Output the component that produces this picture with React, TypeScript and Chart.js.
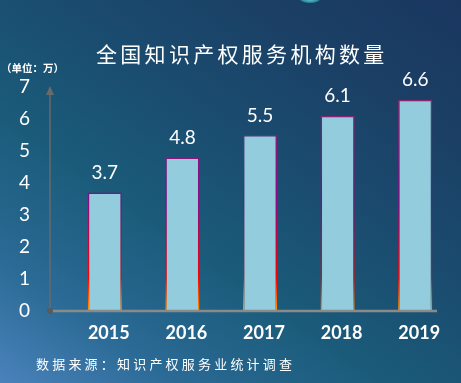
import React, { useEffect, useRef } from "react";
import { Chart, registerables } from "chart.js";

Chart.register(...registerables);

const years = ["2015", "2016", "2017", "2018", "2019"];
const counts = [3.7, 4.8, 5.5, 6.1, 6.6];
const yTicks = [0, 1, 2, 3, 4, 5, 6, 7];
const titleText = "全国知识产权服务机构数量";
const unitText = "（单位：万）";
const sourceText = "数据来源：知识产权服务业统计调查";

const NUM_FONT = "Lato, 'Open Sans', 'Noto Sans', sans-serif";
const CJK_FONT = "'Noto Sans CJK SC', 'Noto Sans', sans-serif";

const axesPlugin = {
  id: "axesDecor",
  afterDatasetsDraw(chart: any) {
    const { ctx, chartArea } = chart;
    const x0 = chartArea.left - 16;
    const y0 = chartArea.bottom;
    ctx.save();
    ctx.strokeStyle = "#8a8a8a";
    ctx.lineWidth = 2.5;
    ctx.beginPath();
    ctx.moveTo(x0, y0);
    ctx.lineTo(chartArea.right - 17, y0);
    ctx.stroke();
    ctx.strokeStyle = "#6a6a6a";
    ctx.lineWidth = 1.5;
    ctx.beginPath();
    ctx.moveTo(x0, y0);
    ctx.lineTo(x0, chartArea.top + 6);
    ctx.stroke();
    ctx.fillStyle = "#6a6a6a";
    ctx.beginPath();
    ctx.moveTo(x0, chartArea.top - 1);
    ctx.lineTo(x0 - 4, chartArea.top + 8);
    ctx.lineTo(x0 + 4, chartArea.top + 8);
    ctx.closePath();
    ctx.fill();
    ctx.fillStyle = "#5a5a5a";
    ctx.beginPath();
    ctx.arc(x0, y0, 3, 0, Math.PI * 2);
    ctx.fill();
    ctx.restore();
  },
};

const valueLabelPlugin = {
  id: "valueLabels",
  afterDatasetsDraw(chart: any) {
    const { ctx } = chart;
    const meta = chart.getDatasetMeta(0);
    ctx.save();
    ctx.fillStyle = "#ffffff";
    ctx.font = `19px ${NUM_FONT}`;
    ctx.textAlign = "center";
    ctx.textBaseline = "bottom";
    meta.data.forEach((bar: any, i: number) => {
      ctx.fillText(String(counts[i]), bar.x, bar.y - 10);
    });
    ctx.restore();
  },
};

export default function App() {
  const canvasRef = useRef<HTMLCanvasElement | null>(null);

  useEffect(() => {
    if (!canvasRef.current) return;
    const chart = new Chart(canvasRef.current, {
      type: "bar",
      data: {
        labels: years,
        datasets: [
          {
            data: counts,
            backgroundColor: "#93cddd",
            borderWidth: 1.5,
            borderColor: (c: any) => {
              const ch = c.chart;
              const area = ch.chartArea;
              if (!area) return "#993366";
              const g = ch.ctx.createLinearGradient(0, area.top, 0, area.bottom);
              g.addColorStop(0, "#8a2c6a");
              g.addColorStop(0.5, "#8a0a8a");
              g.addColorStop(0.85, "#ff0000");
              g.addColorStop(1, "#ff9900");
              return g;
            },
            categoryPercentage: 1,
            barPercentage: 0.44,
          },
        ],
      },
      options: {
        animation: false,
        responsive: false,
        maintainAspectRatio: false,
        layout: { padding: { top: 87, right: 7, left: 0, bottom: 0 } },
        plugins: {
          legend: { display: false },
          tooltip: { enabled: false },
          title: { display: false },
        },
        scales: {
          x: {
            grid: { display: false, drawTicks: false },
            border: { display: false },
            ticks: {
              color: "#ffffff",
              font: { family: NUM_FONT, size: 18, weight: "bold" },
              padding: 11,
              labelOffset: 4,
            },
            afterFit(scale: any) {
              scale.height = 72;
            },
          },
          y: {
            min: 0,
            max: 7,
            afterBuildTicks(scale: any) {
              scale.ticks = yTicks.map((v) => ({ value: v }));
            },
            grid: { display: false, drawTicks: false },
            border: { display: false },
            ticks: {
              color: "#ffffff",
              font: { family: NUM_FONT, size: 19 },
              padding: 36,
            },
            afterFit(scale: any) {
              scale.width = 66;
            },
          },
        },
      },
      plugins: [axesPlugin, valueLabelPlugin],
    } as any);
    return () => chart.destroy();
  }, []);

  return (
    <div
      style={{
        position: "fixed",
        left: 0,
        top: 0,
        width: 461,
        height: 383,
        overflow: "hidden",
        background:
          "linear-gradient(35deg, #4a82bb 0%, #2a6a95 18%, #1b5b7a 38%, #1a4d70 58%, #1b3f65 80%, #1a3760 100%)",
      }}
    >
      <div
        style={{
          position: "absolute",
          left: 300,
          top: -5,
          width: 20,
          height: 8,
          borderRadius: "50%",
          background: "radial-gradient(ellipse at center, #6fd0d8 0%, #2a8aa0 60%, rgba(30,80,110,0) 100%)",
        }}
      />
      <canvas
        ref={canvasRef}
        width={461}
        height={383}
        style={{ position: "absolute", left: 0, top: 0, width: 461, height: 383 }}
      />
      <div
        style={{
          position: "absolute",
          left: 96,
          top: 41,
          whiteSpace: "nowrap",
          color: "#ffffff",
          fontFamily: CJK_FONT,
          fontSize: 21,
          fontWeight: 400,
          lineHeight: "24px",
          letterSpacing: "3.3px",
        }}
      >
        {titleText}
      </div>
      <div
        style={{
          position: "absolute",
          left: 1,
          top: 61,
          whiteSpace: "nowrap",
          color: "#ffffff",
          fontFamily: CJK_FONT,
          fontSize: 10.5,
          fontWeight: 700,
          lineHeight: "13px",
        }}
      >
        {unitText}
      </div>
      <div
        style={{
          position: "absolute",
          left: 36,
          top: 356,
          whiteSpace: "nowrap",
          color: "#ffffff",
          fontFamily: CJK_FONT,
          fontSize: 13,
          fontWeight: 400,
          lineHeight: "16px",
          letterSpacing: "3.2px",
        }}
      >
        {sourceText}
      </div>
    </div>
  );
}
